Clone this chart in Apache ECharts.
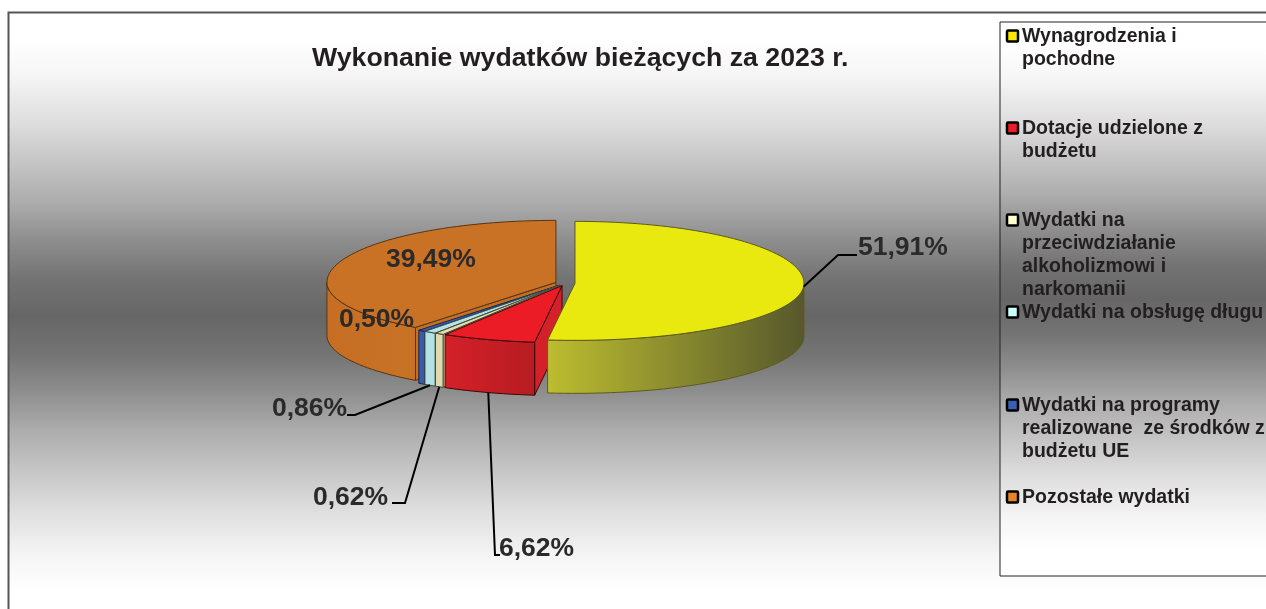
<!DOCTYPE html>
<html>
<head>
<meta charset="utf-8">
<style>
  html, body { margin: 0; padding: 0; background: #fff; overflow: hidden; }
  #chartContainer { width: 1266px; height: 609px; }
</style>
<script src="https://cdn.jsdelivr.net/npm/echarts@6/dist/echarts.min.js"></script>
</head>
<body>
<div id="chartContainer"></div>
<script>
const categories = [
  'Wynagrodzenia i\npochodne',
  'Dotacje udzielone z\nbudżetu',
  'Wydatki na\nprzeciwdziałanie\nalkoholizmowi i\nnarkomanii',
  'Wydatki na obsługę długu',
  'Wydatki na programy\nrealizowane  ze środków z\nbudżetu UE',
  'Pozostałe wydatki'
];
const values = [51.91, 6.62, 0.62, 0.86, 0.50, 39.49];

const topColors = ['#e9e80f', '#ec1c26', '#e2deb0', '#b5e2e2', '#3c5ca8', '#c97226'];
const edgeColors = ['#5c5c1c', '#3a0808', '#4a4a38', '#3c5050', '#16264e', '#573510'];
const wallColors = [['#bdbd30', '#56582c'], ['#d42029', '#b71c22'], ['#dedcae', '#dedcae'], ['#b3e0e0', '#b3e0e0'], ['#3b5aa9', '#3b5aa9'], ['#c66f24', '#c87226']];
const swatchColors = ['#f7e600', '#ee1c25', '#ffffcc', '#ccffff', '#3a5fb0', '#e58428'];
const legendTops = [36, 128, 220, 312, 405, 497];

// label anchor and the elbow of its leader, null elbow = no leader
const labelSpots = [
  { x: 858, y: 248, elbow: [[838, 255], [857, 255]] },
  { x: 499, y: 549, elbow: [[495, 555], [500, 555]] },
  { x: 313, y: 498, elbow: [[405, 503], [392, 503]] },
  { x: 272, y: 409, elbow: [[355, 415], [347, 415]] },
  { x: 339, y: 320, elbow: null },
  { x: 386, y: 260, elbow: null }
];

const cx = 565.2, cy = 283.2;
const rx = 229, ryBack = 62, ryFront = 57, depth = 53, explode = 9.8;

const total = values.reduce((a, b) => a + b, 0);
const startAngles = [];
values.reduce((sum, v, i) => { startAngles[i] = sum / total * 360; return sum + v; }, 0);

const rad = d => d * Math.PI / 180;
// angle is clockwise from 12 o'clock, front half of the ellipse is a bit flatter
function rimPoint(o, deg, drop) {
  const c = Math.cos(rad(deg));
  return [o[0] + rx * Math.sin(rad(deg)), o[1] - c * (c > 0 ? ryBack : ryFront) + (drop || 0)];
}
function arc(o, from, to, drop) {
  const pts = [];
  const n = Math.max(2, Math.ceil((to - from) / 2));
  for (let k = 0; k <= n; k++) pts.push(rimPoint(o, from + (to - from) * k / n, drop));
  return pts;
}
function sliceCenter(mid) {
  const c = Math.cos(rad(mid));
  return [cx + explode * Math.sin(rad(mid)), cy - explode * c * 0.26];
}
const poly = (points, fill, stroke, z2) => ({
  type: 'polygon', z2,
  shape: { points },
  style: { fill, stroke, lineWidth: 1 }
});

function renderSlice(params, api) {
  const i = params.dataIndex;
  const v = api.value(0);
  const from = startAngles[i];
  const to = from + v / total * 360;
  const mid = (from + to) / 2;
  const o = sliceCenter(mid);
  const z = (values.length - i) * 10;
  const stroke = edgeColors[i];
  const walls = wallColors[i];
  const children = [];
  const radialFace = deg => {
    const p = rimPoint(o, deg);
    return poly([o, p, [p[0], p[1] + depth], [o[0], o[1] + depth]], walls[0], stroke, z);
  };
  if (from > 180) children.push(radialFace(from));
  if (to < 180 && to > 0) children.push(radialFace(to));
  const wallFrom = Math.max(from, 90), wallTo = Math.min(to, 270);
  if (wallTo > wallFrom) {
    const upper = arc(o, wallFrom, wallTo, 0);
    const lower = arc(o, wallFrom, wallTo, depth).reverse();
    children.push(poly(upper.concat(lower), new echarts.graphic.LinearGradient(0, 0, 1, 0, [
      { offset: 0, color: walls[0] }, { offset: 1, color: walls[1] }
    ]), stroke, z + 1));
  }
  children.push(poly([o].concat(arc(o, from, to, 0)), topColors[i], stroke, z + 2));

  const spot = labelSpots[i];
  if (spot.elbow) {
    const anchor = rimPoint(o, mid, mid > 180 ? depth : 0);
    children.push({
      type: 'polyline', z2: 100,
      shape: { points: [anchor].concat(spot.elbow) },
      style: { fill: 'none', stroke: '#000', lineWidth: 2 }
    });
  }
  children.push({
    type: 'text', z2: 101,
    style: {
      text: v.toFixed(2).replace('.', ',') + '%',
      x: spot.x, y: spot.y,
      font: 'bold 26.5px "Liberation Sans"', fill: '#2a2a2a',
      verticalAlign: 'middle', align: 'left'
    }
  });
  return { type: 'group', children };
}

const greyFade = [
  { offset: 0, color: '#ffffff' },
  { offset: 0.045, color: '#ffffff' },
  { offset: 0.106, color: '#f5f5f5' },
  { offset: 0.187, color: '#dcdcdc' },
  { offset: 0.312, color: '#adadad' },
  { offset: 0.375, color: '#8e8e8e' },
  { offset: 0.437, color: '#747474' },
  { offset: 0.5, color: '#666666' },
  { offset: 0.563, color: '#747474' },
  { offset: 0.625, color: '#8e8e8e' },
  { offset: 0.688, color: '#adadad' },
  { offset: 0.813, color: '#dcdcdc' },
  { offset: 0.894, color: '#f5f5f5' },
  { offset: 0.955, color: '#ffffff' },
  { offset: 1, color: '#ffffff' }
];

const legendGraphics = [];
categories.forEach((name, i) => {
  legendGraphics.push({
    type: 'rect', z: 5,
    shape: { x: 1007, y: legendTops[i] - 5.5, width: 11, height: 11, r: 1 },
    style: { fill: swatchColors[i], stroke: '#000', lineWidth: 2.5 }
  });
  legendGraphics.push({
    type: 'text', z: 5,
    style: {
      text: name, x: 1022, y: legendTops[i] - 10.5,
      font: 'bold 19.5px "Liberation Sans"', fill: '#231f20',
      lineHeight: 23, verticalAlign: 'top', align: 'left'
    }
  });
});

const myChart = echarts.init(document.getElementById('chartContainer'));
const option = {
  animation: false,
  backgroundColor: '#fff',
  title: {
    text: 'Wykonanie wydatków bieżących za 2023 r.',
    left: 312, top: 45, padding: 0,
    textStyle: { fontFamily: 'Liberation Sans', fontWeight: 'bold', fontSize: 26.7, color: '#231f20' }
  },
  graphic: [
    {
      type: 'rect', z: -1,
      shape: { x: 8.5, y: 12.5, width: 1300, height: 607 },
      style: {
        stroke: '#555', lineWidth: 2,
        fill: new echarts.graphic.LinearGradient(0, 0, 0, 1, greyFade)
      }
    },
    {
      type: 'rect', z: 1,
      shape: { x: 1000, y: 22, width: 300, height: 554 },
      style: {
        stroke: '#222', lineWidth: 1,
        fill: new echarts.graphic.LinearGradient(0, 0, 0, 1, greyFade)
      }
    }
  ].concat(legendGraphics),
  series: [
    {
      type: 'custom',
      coordinateSystem: 'none',
      renderItem: renderSlice,
      data: values.map((v, i) => ({ name: categories[i], value: [v] }))
    }
  ]
};
myChart.setOption(option);
</script>
</body>
</html>
